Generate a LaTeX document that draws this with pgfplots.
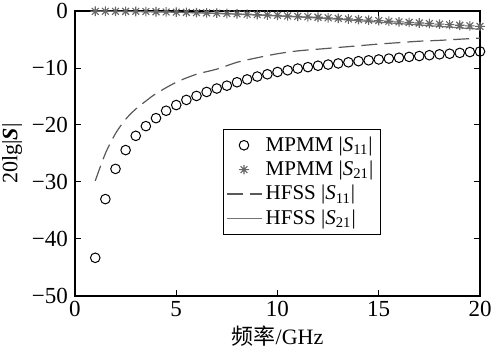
\documentclass[border=0pt]{standalone}
\usepackage{fontspec}
\setmainfont{Liberation Serif}
\newfontfamily\cjk{Noto Sans CJK SC}
\usepackage{pgfplots}
\pgfplotsset{compat=1.18}
\usepackage{pgfplotstable}
\pgfdeclareplotmark{star8}{%
  \pgfpathmoveto{\pgfqpoint{-\pgfplotmarksize}{0pt}}\pgfpathlineto{\pgfqpoint{\pgfplotmarksize}{0pt}}%
  \pgfpathmoveto{\pgfqpoint{0pt}{-\pgfplotmarksize}}\pgfpathlineto{\pgfqpoint{0pt}{\pgfplotmarksize}}%
  \pgfpathmoveto{\pgfqpoint{-0.707\pgfplotmarksize}{-0.707\pgfplotmarksize}}\pgfpathlineto{\pgfqpoint{0.707\pgfplotmarksize}{0.707\pgfplotmarksize}}%
  \pgfpathmoveto{\pgfqpoint{-0.707\pgfplotmarksize}{0.707\pgfplotmarksize}}\pgfpathlineto{\pgfqpoint{0.707\pgfplotmarksize}{-0.707\pgfplotmarksize}}%
  \pgfusepathqstroke}
\pgfplotstableread{
x y
1 -43.3
1.5 -33.0
2 -27.7
2.5 -24.4
3 -21.9
3.5 -20.2
4 -18.8
4.5 -17.5
5 -16.5
5.5 -15.6
6 -14.9
6.5 -14.2
7 -13.6
7.5 -13.1
8 -12.5
8.5 -12.0
9 -11.5
9.5 -11.1
10 -10.7
10.5 -10.4
11 -10.1
11.5 -9.85
12 -9.6
12.5 -9.4
13 -9.2
13.5 -9.0
14 -8.8
14.5 -8.65
15 -8.5
15.5 -8.35
16 -8.2
16.5 -8.05
17 -7.9
17.5 -7.75
18 -7.6
18.5 -7.5
19 -7.35
19.5 -7.2
20 -7.1
}\mpmmA
\pgfplotstableread{
x y
1 -0.05
1.5 -0.05
2 -0.06
2.5 -0.07
3 -0.08
3.5 -0.1
4 -0.13
4.5 -0.16
5 -0.2
5.5 -0.24
6 -0.28
6.5 -0.33
7 -0.38
7.5 -0.44
8 -0.5
8.5 -0.56
9 -0.63
9.5 -0.7
10 -0.78
10.5 -0.86
11 -0.94
11.5 -1.02
12 -1.1
12.5 -1.2
13 -1.3
13.5 -1.4
14 -1.5
14.5 -1.6
15 -1.7
15.5 -1.8
16 -1.9
16.5 -2.0
17 -2.1
17.5 -2.2
18 -2.3
18.5 -2.4
19 -2.5
19.5 -2.6
20 -2.7
}\mpmmB
\pgfplotstableread{
x y
1 -29.8
1.5 -25.0
2 -21.5
2.5 -19.0
3 -17.2
3.5 -15.8
4 -14.5
5 -12.5
6 -11.1
7 -10.2
8 -9.0
9 -8.2
10 -7.5
11 -7.0
12 -6.7
13 -6.4
14 -6.1
15 -5.8
16 -5.55
17 -5.3
18 -5.15
19 -4.95
20 -4.75
}\hfssA
\pgfplotstableread{
x y
1 -0.05
2 -0.07
3 -0.1
4 -0.15
5 -0.22
6 -0.32
7 -0.44
8 -0.57
9 -0.72
10 -0.88
11 -1.05
12 -1.24
13 -1.45
14 -1.7
15 -1.95
16 -2.2
17 -2.45
18 -2.7
19 -2.95
20 -3.2
}\hfssB
\begin{document}
\begin{tikzpicture}
\begin{axis}[
  scale only axis,
  width=202.5pt, height=142.5pt,
  xmin=0, xmax=20, ymin=-50, ymax=0,
  xtick={0,5,10,15,20},
  ytick={-50,-40,-30,-20,-10,0},
  yticklabels={−50,−40,−30,−20,−10,0},
  tick align=inside,
  major tick length=3pt,
  axis line style={line width=0.6pt},
  every tick/.style={line width=0.5pt, black},
  tick label style={font=\fontsize{11.5}{12}\selectfont},
  /pgf/number format/assume math mode=true,
  xticklabel style={yshift=1pt},
  xlabel={{\cjk 频率}/GHz},
  ylabel={20lg|\textbf{\textit{S}}|},
  label style={font=\fontsize{11}{12}\selectfont},
  xlabel style={yshift=2pt},
  ylabel style={yshift=-2pt},
  legend style={at={(0.365,0.586)}, anchor=north west, draw=black, line width=0.5pt,
    font=\fontsize{10.5}{11}\selectfont, inner sep=1.5pt, row sep=-0.6pt,
    /tikz/every even column/.append style={column sep=0pt}},
  legend cell align=left,
  clip=false,
]
\addplot[only marks, mark=o, mark size=2.4pt, black, mark options={line width=0.5pt}] table[x=x,y=y] {\mpmmA};
\addlegendentry{MPMM |\textit{S}\textsubscript{11}|}
\addplot[only marks, mark=star8, mark size=2.4pt, black!60, mark options={line width=0.55pt}] table[x=x,y=y] {\mpmmB};
\addlegendentry{MPMM |\textit{S}\textsubscript{21}|}
\addplot[black!65, line width=0.6pt, dash pattern=on 8pt off 3.5pt, smooth] table[x=x,y=y] {\hfssA};
\addlegendentry{HFSS |\textit{S}\textsubscript{11}|}
\addplot[black!55, line width=0.6pt, smooth] table[x=x,y=y] {\hfssB};
\addlegendentry{HFSS |\textit{S}\textsubscript{21}|}
\end{axis}
\pgfresetboundingbox
\useasboundingbox ([shift={(-37.5pt,-28pt)}]current axis.south west) rectangle ([shift={(9pt,5.5pt)}]current axis.north east);
\end{tikzpicture}
\end{document}
